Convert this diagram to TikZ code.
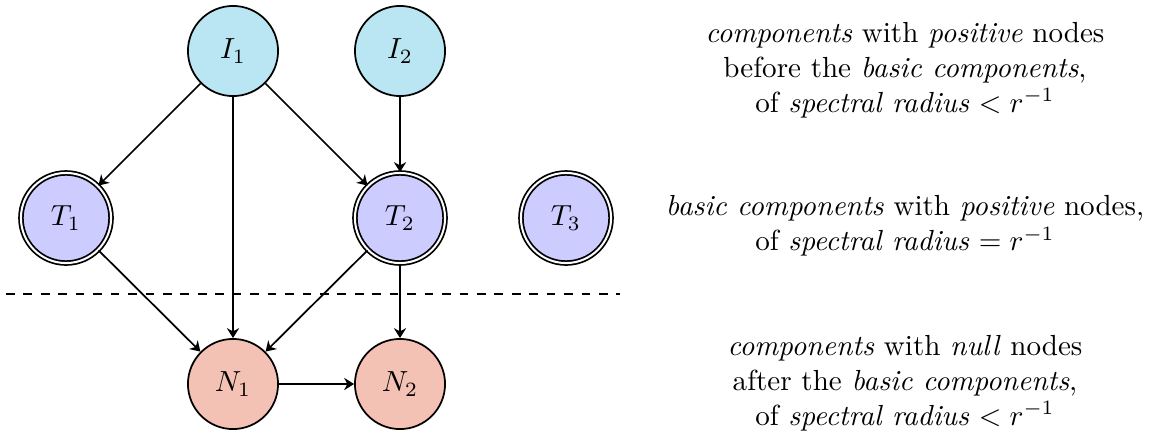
\documentclass[tikz,border=0pt]{standalone}
\usetikzlibrary{arrows.meta}
\definecolor{icol}{RGB}{185,230,242}
\definecolor{tcol}{RGB}{204,204,255}
\definecolor{ncol}{RGB}{244,193,181}
\begin{document}
\begin{tikzpicture}[x=0.344pt,y=-0.344pt,semithick,
  comp/.style={circle,draw,inner sep=0pt,minimum size=31pt},
  inode/.style={comp,fill=icol},
  tnode/.style={comp,fill=tcol,double,double distance=0.7pt},
  nnode/.style={comp,fill=ncol},
  conn/.style={-{Stealth[length=3.4pt,width=4.2pt,inset=1.1pt]}},
  desc/.style={align=center,anchor=center}]
\useasboundingbox (0,0) rectangle (1153,432);
\node[inode] (I1) at (233,51) {$I_1$};
\node[inode] (I2) at (400,51) {$I_2$};
\node[tnode] (T1) at (66,218) {$T_1$};
\node[tnode] (T2) at (400,218) {$T_2$};
\node[tnode] (T3) at (566,218) {$T_3$};
\node[nnode] (N1) at (233,384) {$N_1$};
\node[nnode] (N2) at (400,384) {$N_2$};
\draw[conn] (I1) -- (T1);
\draw[conn] (I1) -- (N1);
\draw[conn] (I1) -- (T2);
\draw[conn] (I2) -- (T2);
\draw[conn] (T1) -- (N1);
\draw[conn] (T2) -- (N1);
\draw[conn] (T2) -- (N2);
\draw[conn] (N1) -- (N2);
\coordinate (dl) at (6,294);
\coordinate (dr) at (620,294);
\draw[dashed] (dl) -- (dr);
\node[desc] (d1) at (905,70) {\textit{components} with \textit{positive} nodes\\ before the \textit{basic components},\\ of \textit{spectral radius} $<r^{-1}$};
\node[desc] (d2) at (905,226) {\textit{basic components} with \textit{positive} nodes,\\ of \textit{spectral radius} $=r^{-1}$};
\node[desc] (d3) at (905,383) {\textit{components} with \textit{null} nodes\\ after the \textit{basic components},\\ of \textit{spectral radius} $<r^{-1}$};
\end{tikzpicture}
\end{document}
